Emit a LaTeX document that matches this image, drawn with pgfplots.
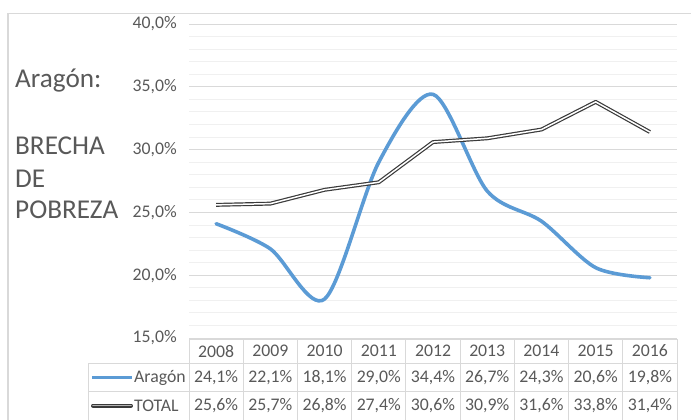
\documentclass[border=0pt]{standalone}
\usepackage{pgfplots}
\pgfplotsset{compat=1.18}
\usepackage{fontspec}
\setmainfont{Carlito}
\definecolor{txt}{HTML}{595959}
\definecolor{blu}{HTML}{5B9BD5}
\definecolor{tot}{HTML}{3A3A3A}
\definecolor{gmaj}{HTML}{D9D9D9}
\definecolor{gmin}{HTML}{F0F0F0}
\newcommand{\tfont}{\fontsize{17.8}{17.8}\selectfont}
\newcommand{\bfontx}{\fontsize{27.3}{27.3}\selectfont}
\begin{document}
\begin{tikzpicture}
\begin{scope}[x=1bp,y=1bp]
\clip (0,0) rectangle (691,-419);
\fill[white] (0,0) rectangle (691,-419);
\draw[gmaj, line width=1.3] (8,-13.5) rectangle (700,-430);
% titles
\node[anchor=base west, inner sep=0pt, text=txt, font=\bfontx] at (15,-87) {Aragón:};
\node[anchor=base west, inner sep=0pt, text=txt, font=\bfontx] at (15,-154) {BRECHA};
\node[anchor=base west, inner sep=0pt, text=txt, font=\bfontx] at (15,-187) {DE};
\node[anchor=base west, inner sep=0pt, text=txt, font=\bfontx] at (15,-218) {POBREZA};
% data table grid
\draw[gmaj, line width=0.9] (189,-339) -- (677,-339);
\draw[gmaj, line width=0.9] (88,-363.5) -- (677,-363.5);
\draw[gmaj, line width=0.9] (88,-391.7) -- (677,-391.7);
\draw[gmaj, line width=0.9] (88,-363.5) -- (88,-425);
\foreach \k in {0,...,9} \draw[gmaj, line width=0.9] ({189+54.222*\k},-339) -- ({189+54.222*\k},-425);
\foreach \yr [count=\i from 0] in {2008,2009,2010,2011,2012,2013,2014,2015,2016}
  \node[font=\tfont, text=txt, inner sep=0pt] at ({189+54.222*(\i+0.5)},-351) {\yr};
\foreach \v [count=\i from 0] in {{24,1\%},{22,1\%},{18,1\%},{29,0\%},{34,4\%},{26,7\%},{24,3\%},{20,6\%},{19,8\%}}
  \node[font=\tfont, text=txt, inner sep=0pt] at ({189+54.222*(\i+0.5)},-378) {\v};
\foreach \v [count=\i from 0] in {{25,6\%},{25,7\%},{26,8\%},{27,4\%},{30,6\%},{30,9\%},{31,6\%},{33,8\%},{31,4\%}}
  \node[font=\tfont, text=txt, inner sep=0pt] at ({189+54.222*(\i+0.5)},-405.5) {\v};
\draw[blu, line width=3.5] (92,-377.5) -- (132,-377.5);
\draw[tot, line width=1.2, double=gray!60, double distance=1.6, line cap=round] (93,-405.5) -- (131,-405.5);
\node[anchor=west, font=\tfont, text=txt, inner sep=0pt] at (134,-378) {Aragón};
\node[anchor=west, font=\tfont, text=txt, inner sep=0pt] at (134,-405.5) {TOTAL};
\end{scope}
\begin{axis}[at={(189bp,-338bp)}, anchor=south west, scale only axis,
  width=488bp, height=314bp,
  xmin=2007.5, xmax=2016.5, ymin=15, ymax=40,
  axis line style={draw=none}, xtick=\empty,
  ytick={15,20,25,30,35,40}, minor ytick={16,17,18,19,21,22,23,24,26,27,28,29,31,32,33,34,36,37,38,39},
  ymajorgrids, yminorgrids,
  major grid style={gmaj, line width=0.9bp},
  minor grid style={gmin, line width=0.9bp},
  major tick length=0pt, minor tick length=0pt,
  yticklabels={{15,0\%},{20,0\%},{25,0\%},{30,0\%},{35,0\%},{40,0\%}},
  yticklabel style={font=\tfont, text=txt, inner sep=0pt, anchor=east, xshift=-12bp},
  clip=false]
\addplot[blu, line width=3.6bp, smooth, line cap=round] coordinates {
(2008,24.1) (2009,22.1) (2010,18.1) (2011,29.0) (2012,34.4) (2013,26.7) (2014,24.3) (2015,20.6) (2016,19.8)};
\addplot[tot, line width=1.2bp, double=white, double distance=1.5bp, line join=round] coordinates {
(2008,25.6) (2009,25.7) (2010,26.8) (2011,27.4) (2012,30.6) (2013,30.9) (2014,31.6) (2015,33.8) (2016,31.4)};
\end{axis}
\end{tikzpicture}
\end{document}
